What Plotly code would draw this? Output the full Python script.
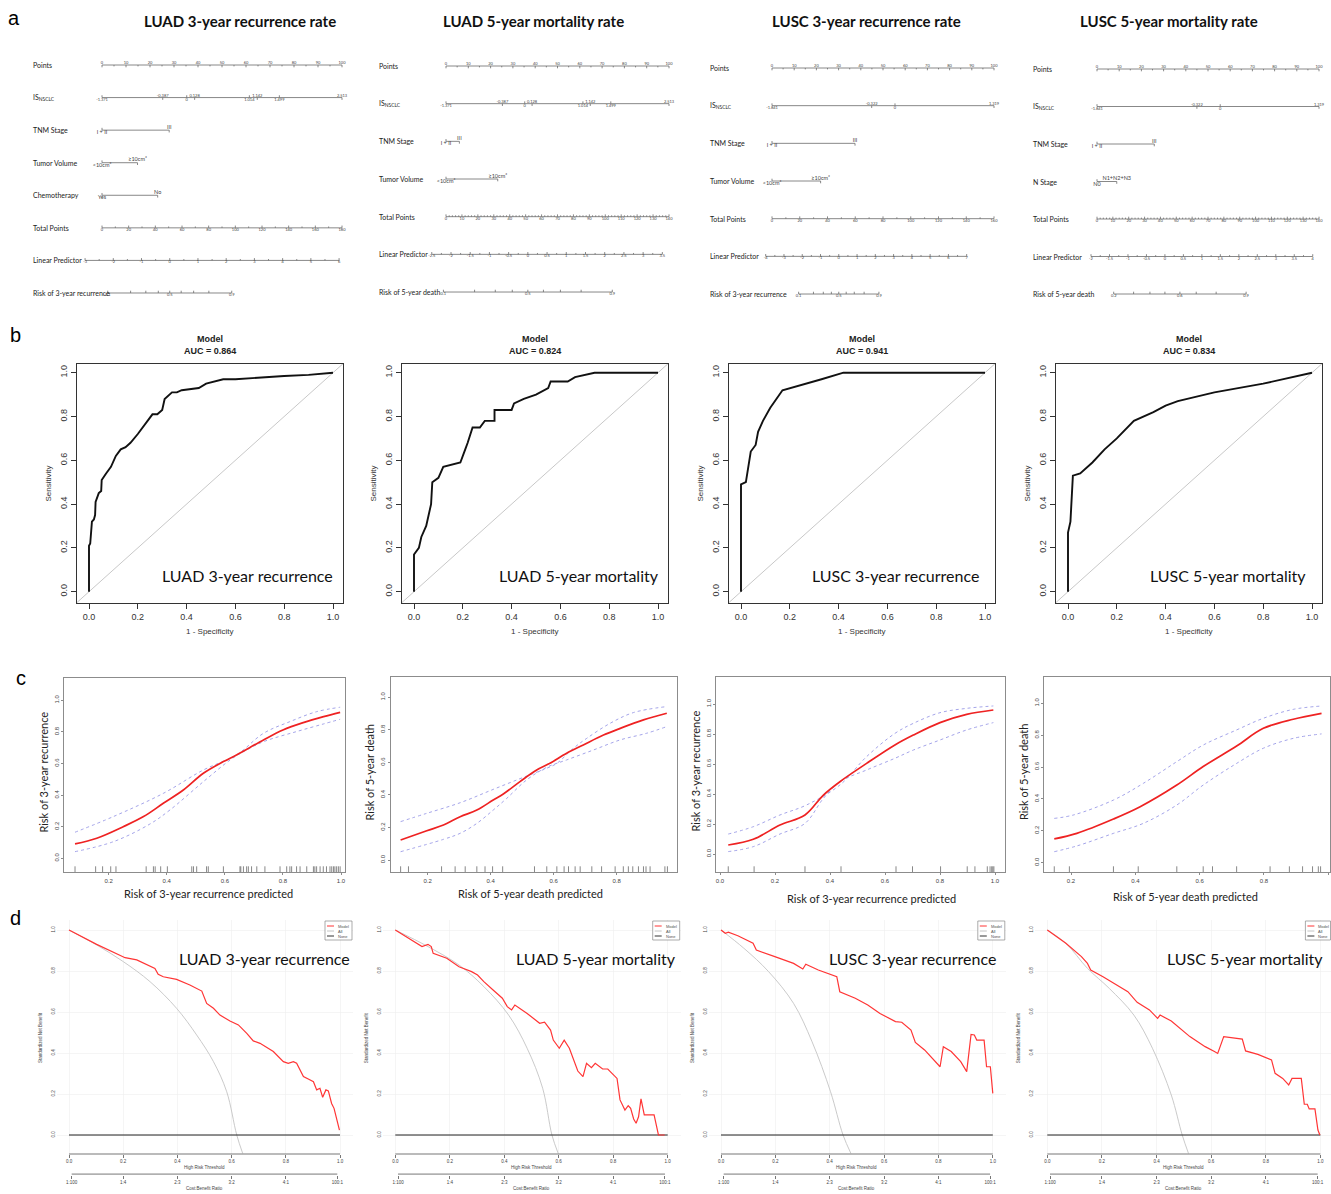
import math
import plotly.graph_objects as go

W, H = 1331, 1194
LATO = "Lato, Open Sans, sans-serif"
ARIAL = "Liberation Sans, Arial, sans-serif"

# ============================ DATA ============================
panel_letters = ["a", "b", "c", "d"]
nomogram_titles = ["LUAD 3-year recurrence rate", "LUAD 5-year mortality rate",
                   "LUSC 3-year recurrence rate", "LUSC 5-year mortality rate"]
model_names = ["LUAD 3-year recurrence", "LUAD 5-year mortality",
               "LUSC 3-year recurrence", "LUSC 5-year mortality"]
auc_values = [0.864, 0.824, 0.941, 0.834]
outcome_labels = ["Risk of 3-year recurrence", "Risk of 5-year death",
                  "Risk of 3-year recurrence", "Risk of 5-year death"]

# ---- (a) nomograms ----
points_major = [0, 10, 20, 30, 40, 50, 60, 70, 80, 90, 100]
points_minor = [5, 15, 25, 35, 45, 55, 65, 75, 85, 95]
is_vals_luad = [-1.371, -0.387, 0, 0.128, 1.014, 1.142, 1.499, 2.513]
is_pts_luad = [0, 25.3, 35.3, 38.6, 61.4, 64.7, 73.9, 100]
is_vals_lusc = [-1.841, -0.322, 0, 1.319]
is_pts_lusc3 = [0, 44.9, 55.4, 100]
is_pts_lusc5 = [0, 45.0, 55.5, 100]
tnm_levels = ["I + II", "III"]
volume_levels = ["<10cm³", "≥10cm³"]
chemo_levels = ["Yes", "No"]
nstage_levels = ["N0", "N1+N2+N3"]
luad3_tnm_pts = [0, 28.0]
luad3_volume_pts = [0, 14.8]
luad3_chemo_pts = [0, 23.2]
luad5_tnm_pts = [0, 6.0]
luad5_volume_pts = [0, 23.2]
lusc3_tnm_pts = [0, 37.4]
lusc3_volume_pts = [0, 21.9]
lusc5_tnm_pts = [0, 25.8]
lusc5_nstage_pts = [0, 8.9]
total_points_max = [180, 140, 160, 140]
total_points_step = [20, 10, 20, 10]
total_points_minor = [10, 2, 10, 2]
lp_ticks_luad3 = [-3, -2, -1, 0, 1, 2, 3, 4, 5, 6]
lp_ticks_luad5 = [-2.5, -2, -1.5, -1, -0.5, 0, 0.5, 1, 1.5, 2, 2.5, 3, 3.5]
lp_ticks_lusc3 = [-4, -3, -2, -1, 0, 1, 2, 3, 4, 5, 6, 7]
lp_ticks_lusc5 = [-2, -1.5, -1, -0.5, 0, 0.5, 1, 1.5, 2, 2.5, 3, 3.5, 4]
lp_at_zero_points = [-2.40, -2.13, -3.655, -1.838]
lp_per_total_point = [0.04724, 0.04145, 0.07594, 0.04291]
risk_ticks_01 = [0.1, 0.2, 0.3, 0.4, 0.5, 0.6, 0.7, 0.8, 0.9]
risk_ticks_02 = [0.2, 0.3, 0.4, 0.5, 0.6, 0.7, 0.8, 0.9]
risk_labels_01 = [0.1, 0.5, 0.9]
risk_labels_02 = [0.2, 0.6, 0.9]

# ---- (b) ROC curves ----
roc1_fpr = [0, 0, 0.005, 0.01, 0.012, 0.02, 0.025, 0.027, 0.035, 0.04, 0.05, 0.052, 0.07, 0.09, 0.11,
            0.13, 0.15, 0.17, 0.2, 0.24, 0.26, 0.28, 0.30, 0.31, 0.33, 0.34, 0.36, 0.38, 0.45, 0.48,
            0.55, 0.6, 0.8, 0.9, 1.0]
roc1_tpr = [0, 0.21, 0.22, 0.27, 0.32, 0.33, 0.35, 0.41, 0.43, 0.45, 0.46, 0.51, 0.54, 0.57, 0.62,
            0.65, 0.66, 0.68, 0.72, 0.78, 0.81, 0.81, 0.83, 0.88, 0.90, 0.91, 0.91, 0.92, 0.93, 0.95,
            0.97, 0.97, 0.985, 0.99, 1.0]
roc2_fpr = [0, 0, 0.02, 0.03, 0.05, 0.06, 0.07, 0.075, 0.1, 0.12, 0.15, 0.19, 0.21, 0.22, 0.24, 0.27,
            0.29, 0.33, 0.33, 0.4, 0.41, 0.45, 0.5, 0.55, 0.56, 0.63, 0.66, 0.74, 1.0]
roc2_tpr = [0, 0.17, 0.2, 0.25, 0.3, 0.35, 0.4, 0.5, 0.52, 0.57, 0.58, 0.59, 0.65, 0.68, 0.75, 0.75,
            0.78, 0.78, 0.83, 0.83, 0.86, 0.88, 0.9, 0.93, 0.96, 0.96, 0.98, 1.0, 1.0]
roc3_fpr = [0, 0, 0.02, 0.04, 0.06, 0.07, 0.09, 0.12, 0.17, 0.27, 0.33, 0.42, 1.0]
roc3_tpr = [0, 0.49, 0.5, 0.64, 0.67, 0.73, 0.78, 0.84, 0.92, 0.95, 0.97, 1.0, 1.0]
roc4_fpr = [0, 0, 0.01, 0.015, 0.02, 0.05, 0.1, 0.15, 0.2, 0.27, 0.35, 0.4, 0.45, 0.6, 0.8, 1.0]
roc4_tpr = [0, 0.27, 0.32, 0.42, 0.53, 0.54, 0.59, 0.65, 0.70, 0.78, 0.82, 0.85, 0.87, 0.91, 0.95, 1.0]

# ---- (c) calibration curves ----
cal1_fit_x = [0.084, 0.159, 0.25, 0.32, 0.388, 0.457, 0.526, 0.595, 0.64, 0.733, 0.80, 0.87, 0.94, 0.997]
cal1_fit_y = [0.091, 0.127, 0.2, 0.264, 0.348, 0.432, 0.538, 0.612, 0.654, 0.749, 0.812, 0.859, 0.897, 0.924]
cal1_hi_x = [0.084, 0.216, 0.388, 0.526, 0.64, 0.733, 0.824, 0.916, 0.997]
cal1_hi_y = [0.165, 0.264, 0.411, 0.559, 0.654, 0.791, 0.865, 0.928, 0.956]
cal1_lo_x = [0.084, 0.216, 0.342, 0.411, 0.526, 0.618, 0.664, 0.733, 0.847, 0.939, 0.997]
cal1_lo_y = [0.042, 0.105, 0.217, 0.306, 0.485, 0.622, 0.675, 0.738, 0.802, 0.85, 0.88]
cal1_rug = [0.084, 0.155, 0.179, 0.207, 0.225, 0.329, 0.354, 0.36, 0.379, 0.402, 0.486, 0.492, 0.503,
            0.537, 0.543, 0.595, 0.652, 0.655, 0.664, 0.675, 0.681, 0.692, 0.71, 0.738, 0.79, 0.813,
            0.824, 0.83, 0.847, 0.859, 0.882, 0.905, 0.91, 0.916, 0.928, 0.939, 0.95, 0.962, 0.968,
            0.974, 0.979, 0.985, 0.991, 0.997]
cal2_fit_x = [0.114, 0.197, 0.25, 0.303, 0.356, 0.408, 0.44, 0.493, 0.546, 0.588, 0.641, 0.694, 0.758, 0.811, 0.885, 0.959]
cal2_fit_y = [0.123, 0.18, 0.215, 0.266, 0.307, 0.369, 0.406, 0.482, 0.553, 0.594, 0.656, 0.707, 0.768, 0.809, 0.861, 0.902]
cal2_hi_x = [0.114, 0.197, 0.303, 0.408, 0.514, 0.578, 0.61, 0.662, 0.705, 0.779, 0.853, 0.959]
cal2_hi_y = [0.236, 0.287, 0.352, 0.434, 0.516, 0.564, 0.594, 0.686, 0.748, 0.84, 0.906, 0.943]
cal2_lo_x = [0.114, 0.25, 0.303, 0.356, 0.408, 0.451, 0.514, 0.578, 0.641, 0.726, 0.811, 0.895, 0.959]
cal2_lo_y = [0.051, 0.127, 0.164, 0.225, 0.307, 0.379, 0.492, 0.57, 0.615, 0.676, 0.738, 0.779, 0.82]
cal2_rug = [0.114, 0.139, 0.244, 0.287, 0.319, 0.356, 0.382, 0.406, 0.438, 0.539, 0.578, 0.61, 0.633,
            0.647, 0.668, 0.684, 0.721, 0.752, 0.795, 0.821, 0.837, 0.851, 0.869, 0.885, 0.893, 0.906,
            0.953, 0.961]
cal3_fit_x = [0.03, 0.121, 0.218, 0.309, 0.376, 0.436, 0.533, 0.636, 0.703, 0.8, 0.897, 0.994]
cal3_fit_y = [0.06, 0.098, 0.193, 0.26, 0.393, 0.482, 0.604, 0.727, 0.793, 0.876, 0.931, 0.96]
cal3_hi_x = [0.03, 0.121, 0.218, 0.315, 0.436, 0.533, 0.636, 0.703, 0.8, 0.897, 0.994]
cal3_hi_y = [0.133, 0.182, 0.26, 0.327, 0.46, 0.649, 0.804, 0.871, 0.942, 0.971, 0.987]
cal3_lo_x = [0.03, 0.121, 0.218, 0.309, 0.376, 0.436, 0.533, 0.636, 0.703, 0.8, 0.897, 0.994]
cal3_lo_y = [0.016, 0.049, 0.133, 0.204, 0.371, 0.482, 0.56, 0.638, 0.693, 0.76, 0.827, 0.876]
cal3_rug = [0.03, 0.124, 0.309, 0.44, 0.64, 0.70, 0.802, 0.899, 0.927, 0.972, 0.982, 0.988, 0.992, 0.996]
cal4_fit_x = [0.148, 0.218, 0.332, 0.415, 0.529, 0.611, 0.715, 0.798, 0.891, 0.979]
cal4_fit_y = [0.149, 0.184, 0.274, 0.351, 0.487, 0.603, 0.732, 0.843, 0.9, 0.937]
cal4_hi_x = [0.148, 0.207, 0.332, 0.425, 0.529, 0.611, 0.715, 0.798, 0.891, 0.979]
cal4_hi_y = [0.278, 0.299, 0.393, 0.498, 0.634, 0.738, 0.833, 0.906, 0.962, 0.983]
cal4_lo_x = [0.148, 0.218, 0.332, 0.425, 0.529, 0.611, 0.715, 0.798, 0.891, 0.979]
cal4_lo_y = [0.069, 0.105, 0.184, 0.247, 0.362, 0.487, 0.623, 0.718, 0.78, 0.808]
cal4_rug = [0.148, 0.195, 0.332, 0.409, 0.529, 0.611, 0.64, 0.715, 0.819, 0.879, 0.92, 0.951, 0.969, 0.976]
cal_xticks = [[0.2, 0.4, 0.6, 0.8, 1.0], [0.2, 0.4, 0.6, 0.8],
              [0.0, 0.2, 0.4, 0.6, 0.8, 1.0], [0.2, 0.4, 0.6, 0.8, 1.0]]
cal_yticks = [0.0, 0.2, 0.4, 0.6, 0.8, 1.0]

# ---- (d) decision curves ----
dca1_thr = [0, 0.102, 0.207, 0.25, 0.317, 0.329, 0.348, 0.397, 0.446, 0.49, 0.508, 0.533, 0.557, 0.594,
            0.625, 0.656, 0.68, 0.705, 0.754, 0.791, 0.809, 0.828, 0.84, 0.865, 0.883, 0.902, 0.914,
            0.926, 0.936, 0.948, 0.957, 0.969, 0.978, 0.998]
dca1_model = [1.0, 0.93, 0.865, 0.854, 0.813, 0.784, 0.772, 0.759, 0.732, 0.702, 0.642, 0.618, 0.585,
              0.556, 0.537, 0.496, 0.459, 0.447, 0.407, 0.358, 0.35, 0.358, 0.35, 0.285, 0.273, 0.26,
              0.22, 0.228, 0.184, 0.22, 0.215, 0.154, 0.13, 0.024]
dca1_all_thr = [0, 0.102, 0.2, 0.299, 0.397, 0.471, 0.533, 0.582, 0.619, 0.641]
dca1_all = [1.0, 0.927, 0.846, 0.748, 0.618, 0.488, 0.358, 0.211, 0.0, -0.09]
dca2_thr = [0, 0.098, 0.12, 0.132, 0.139, 0.189, 0.234, 0.28, 0.302, 0.325, 0.359, 0.393, 0.411, 0.427,
            0.439, 0.484, 0.53, 0.548, 0.57, 0.58, 0.602, 0.62, 0.639, 0.655, 0.67, 0.689, 0.702, 0.72,
            0.734, 0.761, 0.78, 0.814, 0.825, 0.843, 0.855, 0.864, 0.875, 0.884, 0.893, 0.902, 0.914,
            0.95, 0.966, 0.989]
dca2_model = [1.0, 0.919, 0.93, 0.919, 0.886, 0.862, 0.821, 0.797, 0.78, 0.748, 0.707, 0.667, 0.626,
              0.61, 0.634, 0.593, 0.545, 0.55, 0.512, 0.463, 0.423, 0.463, 0.423, 0.366, 0.312, 0.285,
              0.35, 0.328, 0.35, 0.322, 0.322, 0.276, 0.171, 0.122, 0.143, 0.13, 0.078, 0.057, 0.089,
              0.176, 0.098, 0.098, 0.0, 0.0]
dca2_all_thr = [0, 0.12, 0.234, 0.325, 0.416, 0.484, 0.541, 0.575, 0.598]
dca2_all = [1.0, 0.919, 0.829, 0.724, 0.585, 0.423, 0.228, 0.0, -0.09]
dca3_thr = [0, 0.016, 0.027, 0.062, 0.118, 0.13, 0.198, 0.267, 0.301, 0.312, 0.358, 0.426, 0.437, 0.494,
            0.54, 0.585, 0.642, 0.665, 0.699, 0.715, 0.749, 0.779, 0.806, 0.818, 0.847, 0.882, 0.904,
            0.92, 0.932, 0.941, 0.968, 0.977, 0.991, 1.0]
dca3_model = [1.0, 0.984, 0.989, 0.972, 0.935, 0.902, 0.87, 0.837, 0.81, 0.833, 0.805, 0.772, 0.699,
              0.667, 0.634, 0.593, 0.553, 0.55, 0.512, 0.452, 0.415, 0.374, 0.333, 0.431, 0.407, 0.358,
              0.309, 0.491, 0.488, 0.463, 0.463, 0.333, 0.333, 0.203]
dca3_all_thr = [0, 0.084, 0.175, 0.267, 0.335, 0.403, 0.449, 0.478]
dca3_all = [1.0, 0.911, 0.797, 0.642, 0.455, 0.211, 0.0, -0.09]
dca4_thr = [0, 0.068, 0.125, 0.147, 0.159, 0.204, 0.295, 0.329, 0.374, 0.404, 0.413, 0.454, 0.522, 0.578,
            0.612, 0.624, 0.646, 0.714, 0.726, 0.771, 0.821, 0.834, 0.862, 0.884, 0.896, 0.93, 0.941,
            0.952, 0.959, 0.98, 0.991, 0.998]
dca4_model = [1.0, 0.935, 0.87, 0.837, 0.805, 0.772, 0.699, 0.647, 0.61, 0.569, 0.585, 0.556, 0.48,
              0.431, 0.407, 0.398, 0.48, 0.468, 0.41, 0.393, 0.366, 0.301, 0.276, 0.244, 0.276, 0.276,
              0.15, 0.15, 0.127, 0.127, 0.024, 0.0]
dca4_all_thr = [0, 0.068, 0.147, 0.227, 0.317, 0.385, 0.454, 0.494, 0.517]
dca4_all = [1.0, 0.935, 0.813, 0.715, 0.585, 0.423, 0.195, 0.0, -0.09]
dca_ticks = [0.0, 0.2, 0.4, 0.6, 0.8, 1.0]
cost_benefit_thr = [0.0099, 0.2, 0.4, 0.6, 0.8, 0.99]
cost_benefit_txt = ["1:100", "1:4", "2:3", "3:2", "4:1", "100:1"]
legend_names = ["Model", "All", "None"]

# ============================ LAYOUT HELPERS ============================
traces = []
annotations = []
shapes = []
axes = {}
count = [0]


def lin(v0, p0, v1, p1, a, b):
    k = (v1 - v0) / (p1 - p0)
    return [v0 + (a - p0) * k, v0 + (b - p0) * k]


def new_axes(xd, xr, yd, yr, xo=None, yo=None):
    count[0] += 1
    n = count[0]
    sx = '' if n == 1 else str(n)
    base = dict(showgrid=False, zeroline=False, fixedrange=True)
    xa = dict(base, domain=xd, range=xr, anchor='y' + sx)
    ya = dict(base, domain=yd, range=yr, anchor='x' + sx)
    xa.update(xo or {})
    ya.update(yo or {})
    axes['xaxis' + sx] = xa
    axes['yaxis' + sx] = ya
    return 'x' + sx, 'y' + sx


def ann(px, py, text, size, font=LATO, color='#111', xa='center', ya='middle', angle=0):
    annotations.append(dict(x=px / W, y=1 - py / H, xref='paper', yref='paper', text=text,
                            showarrow=False, xanchor=xa, yanchor=ya, textangle=angle,
                            font=dict(family=font, size=size, color=color)))


def fmt(v):
    return f"{v:g}"


# ============================ (a) NOMOGRAMS ============================
nomo_label_px = [31, 377, 708, 1031]
nomo_p0_px = [102, 446, 772, 1097]
nomo_p100_px = [342, 669, 994, 1319]
nomo_row0_px = [65, 66, 68, 69]
nomo_row_step = [32.57, 37.67, 37.67, 37.5]
title_cx = [240, 533, 867, 1169]

nomo_is = [(is_vals_luad, is_pts_luad), (is_vals_luad, is_pts_luad),
           (is_vals_lusc, is_pts_lusc3), (is_vals_lusc, is_pts_lusc5)]
nomo_factors = [
    [("TNM Stage", tnm_levels, luad3_tnm_pts), ("Tumor Volume", volume_levels, luad3_volume_pts),
     ("Chemotherapy", chemo_levels, luad3_chemo_pts)],
    [("TNM Stage", tnm_levels, luad5_tnm_pts), ("Tumor Volume", volume_levels, luad5_volume_pts)],
    [("TNM Stage", tnm_levels, lusc3_tnm_pts), ("Tumor Volume", volume_levels, lusc3_volume_pts)],
    [("TNM Stage", tnm_levels, lusc5_tnm_pts), ("N Stage", nstage_levels, lusc5_nstage_pts)],
]
nomo_lp_ticks = [lp_ticks_luad3, lp_ticks_luad5, lp_ticks_lusc3, lp_ticks_lusc5]
nomo_risk_ticks = [risk_ticks_01, risk_ticks_01, risk_ticks_01, risk_ticks_02]
nomo_risk_labels = [risk_labels_01, risk_labels_01, risk_labels_01, risk_labels_02]

for k in range(4):
    ann(title_cx[k], 21, "<b>" + nomogram_titles[k] + "</b>", 15, font=LATO, color='#111')
    s = nomo_row_step[k]
    row0 = nomo_row0_px[k]
    names = ["Points", "IS<sub>NSCLC</sub>"] + [f[0] for f in nomo_factors[k]] + \
            ["Total Points", "Linear Predictor", outcome_labels[k]]
    nr = len(names)
    top_px = row0 - 0.7 * s
    bot_px = row0 + (nr - 1) * s + 0.7 * s
    L = nomo_label_px[k] - 8
    R = min(nomo_p100_px[k] + 10, W)
    xr = lin(0, nomo_p0_px[k], 100, nomo_p100_px[k], L, R)
    yr = [(bot_px - row0) / s, (top_px - row0) / s]
    xref, yref = new_axes([L / W, R / W], xr, [1 - bot_px / H, 1 - top_px / H], yr,
                          dict(visible=False), dict(visible=False))
    tl = 2.3 / s
    sx, sy = [], []
    tops, bots, topf, botf = [], [], [], []

    def seg(x0, y0, x1, y1):
        sx.extend([x0, x1, None])
        sy.extend([y0, y1, None])

    def scale(row, major, labels, minor, side):
        allx = major + minor
        seg(min(allx), row, max(allx), row)
        d = tl if side == 'top' else -tl
        for x in major:
            seg(x, row, x, row + d)
        for x in minor:
            seg(x, row, x, row + d * 0.6)
        tgt = tops if side == 'top' else bots
        for x, t in zip(major, labels):
            if t is not None:
                tgt.append((x, row, t))

    # row 0: points
    scale(0, points_major, [fmt(v) for v in points_major], points_minor, 'top')
    # row 1: IS
    iv, ip = nomo_is[k]
    seg(min(ip), 1, max(ip), 1)
    for j, (v, p) in enumerate(zip(iv, ip)):
        if j % 2 == 0:
            seg(p, 1, p, 1 - tl)
            bots.append((p, 1, fmt(v)))
        else:
            seg(p, 1, p, 1 + tl)
            tops.append((p, 1, fmt(v)))
    # factor rows
    r = 2
    for (_, levels, pts) in nomo_factors[k]:
        seg(min(pts), r, max(pts), r)
        for j, (lv, p) in enumerate(zip(levels, pts)):
            seg(p, r, p, r - tl if j % 2 == 0 else r + tl)
            (botf if j % 2 == 0 else topf).append((p, r, lv))
        r += 1
    # total points
    tpmax = total_points_max[k]
    f = 100.0 / tpmax
    tp_major = list(range(0, tpmax + 1, total_points_step[k]))
    tp_minor = [v for v in range(0, tpmax + 1, total_points_minor[k]) if v not in tp_major]
    scale(r, [v * f for v in tp_major], [fmt(v) for v in tp_major], [v * f for v in tp_minor], 'bottom')
    r += 1
    # linear predictor
    lp0, lps = lp_at_zero_points[k], lp_per_total_point[k]

    def lp_x(lp):
        return (lp - lp0) / lps * f

    lpt = nomo_lp_ticks[k]
    lp_minor = [(a + b) / 2 for a, b in zip(lpt[:-1], lpt[1:])]
    scale(r, [lp_x(v) for v in lpt], [fmt(v) for v in lpt], [lp_x(v) for v in lp_minor], 'bottom')
    r += 1
    # risk
    rt = nomo_risk_ticks[k]
    rl = nomo_risk_labels[k]
    rx = [lp_x(math.log(v / (1 - v))) for v in rt]
    scale(r, rx, [fmt(v) if any(abs(v - q) < 1e-9 for q in rl) else None for v in rt], [], 'bottom')

    traces.append(go.Scatter(x=sx, y=sy, xaxis=xref, yaxis=yref, mode='lines',
                             line=dict(color='#6a6a6a', width=0.8), hoverinfo='skip'))
    for lst, pos, size in [(tops, 'top center', 4), (bots, 'bottom center', 4),
                           (topf, 'top center', 5.5), (botf, 'bottom center', 5.5)]:
        if lst:
            traces.append(go.Scatter(x=[a[0] for a in lst], y=[a[1] for a in lst],
                                     text=[a[2] for a in lst], mode='text', textposition=pos,
                                     textfont=dict(family=LATO, size=size, color='#444'),
                                     xaxis=xref, yaxis=yref, cliponaxis=False, hoverinfo='skip'))
    for i, nm in enumerate(names):
        annotations.append(dict(x=nomo_label_px[k] / W, y=i, xref='paper', yref=yref, text=nm,
                                showarrow=False, xanchor='left', yanchor='middle',
                                font=dict(family=LATO, size=7, color='#222')))

# ============================ (b) ROC ============================
roc_data = [(roc1_fpr, roc1_tpr), (roc2_fpr, roc2_tpr), (roc3_fpr, roc3_tpr), (roc4_fpr, roc4_tpr)]
roc_x0_px = [89, 414, 741, 1068]
roc_label_right = [335, 661, 981, 1308]
ticks01 = [0.0, 0.2, 0.4, 0.6, 0.8, 1.0]
for k in range(4):
    x0 = roc_x0_px[k]
    L, R = x0 - 12, x0 + 254
    T, B = 364, 603
    xr = lin(0, x0, 1, x0 + 244, L, R)
    yr = lin(0, 591.7, 1, 372.7, B, T)
    common = dict(showline=True, mirror=True, linecolor='#333', linewidth=1, ticks='outside',
                  ticklen=5, tickwidth=1, tickcolor='#333', tickvals=ticks01,
                  ticktext=[f"{v:.1f}" for v in ticks01],
                  tickfont=dict(family=ARIAL, size=9, color='#333'))
    xref, yref = new_axes([L / W, R / W], xr, [1 - B / H, 1 - T / H], yr,
                          dict(common), dict(common, tickangle=-90))
    traces.append(go.Scatter(x=[xr[0], xr[1]], y=[xr[0], xr[1]], xaxis=xref, yaxis=yref, mode='lines',
                             line=dict(color='#c8c8c8', width=1), hoverinfo='skip'))
    fx, ty = roc_data[k]
    traces.append(go.Scatter(x=fx, y=ty, xaxis=xref, yaxis=yref, mode='lines',
                             line=dict(color='#111', width=1.9), hoverinfo='skip'))
    cx = (L + R) / 2
    ann(cx, 339, "<b>Model</b>", 9, font=ARIAL, color='#222')
    ann(cx, 351, f"<b>AUC = {auc_values[k]:.3f}</b>", 9, font=ARIAL, color='#222')
    ann(L - 29, (T + B) / 2, "Sensitivity", 8, font=ARIAL, color='#333', angle=-90)
    ann(cx, 631, "1 - Specificity", 8, font=ARIAL, color='#333')
    ann(roc_label_right[k], 575, model_names[k], 16, font=LATO, color='#111', xa='right')

# ============================ (c) CALIBRATION ============================
cal_data = [
    (cal1_fit_x, cal1_fit_y, cal1_hi_x, cal1_hi_y, cal1_lo_x, cal1_lo_y, cal1_rug),
    (cal2_fit_x, cal2_fit_y, cal2_hi_x, cal2_hi_y, cal2_lo_x, cal2_lo_y, cal2_rug),
    (cal3_fit_x, cal3_fit_y, cal3_hi_x, cal3_hi_y, cal3_lo_x, cal3_lo_y, cal3_rug),
    (cal4_fit_x, cal4_fit_y, cal4_hi_x, cal4_hi_y, cal4_lo_x, cal4_lo_y, cal4_rug),
]
cal_xmap = [(0.2, 108.7, 1.0, 341, 64.3, 345), (0.2, 427.7, 0.8, 616.7, 390.7, 676.7),
            (0.0, 720, 1.0, 995, 716, 1005), (0.2, 1071, 1.0, 1328.3, 1044.3, 1330)]
cal_ymap = [(858.3, 700.3, 678.3, 872.3), (860, 697.3, 677.3, 872.3),
            (854, 704, 676.7, 872.3), (862.7, 703.3, 677.3, 872.3)]
cal_xtitle = [(208, 893), (530, 893), (871, 898), (1185, 896)]
for k in range(4):
    va, pa, vb, pb, L, R = cal_xmap[k]
    p0, p1, T, B = cal_ymap[k]
    xr = lin(va, pa, vb, pb, L, R)
    yr = lin(0, p0, 1, p1, B, T)
    common = dict(showline=True, mirror=True, linecolor='#8c8c8c', linewidth=1, ticks='outside',
                  ticklen=2, tickcolor='#8c8c8c',
                  tickfont=dict(family=ARIAL, size=6, color='#444'))
    xref, yref = new_axes([L / W, R / W], xr, [1 - B / H, 1 - T / H], yr,
                          dict(common, tickvals=cal_xticks[k], ticktext=[f"{v:.1f}" for v in cal_xticks[k]]),
                          dict(common, tickvals=cal_yticks, ticktext=[f"{v:.1f}" for v in cal_yticks],
                               tickangle=-90))
    fxs, fys, hx, hy, lx, ly, rug = cal_data[k]
    rug_h = 6.0 / (p0 - p1)
    rx, ry = [], []
    for v in rug:
        rx.extend([v, v, None])
        ry.extend([yr[0], yr[0] + rug_h, None])
    traces.append(go.Scatter(x=rx, y=ry, xaxis=xref, yaxis=yref, mode='lines',
                             line=dict(color='#555', width=0.7), hoverinfo='skip'))
    for xs, ys in [(hx, hy), (lx, ly)]:
        traces.append(go.Scatter(x=xs, y=ys, xaxis=xref, yaxis=yref, mode='lines',
                                 line=dict(color='#9a9ae6', width=0.9, dash='dot', shape='spline'),
                                 hoverinfo='skip'))
    traces.append(go.Scatter(x=fxs, y=fys, xaxis=xref, yaxis=yref, mode='lines',
                             line=dict(color='#ee2222', width=1.7, shape='spline'), hoverinfo='skip'))
    ann(L - 21, (T + B) / 2 - 3, outcome_labels[k], 11, font=LATO, color='#222', angle=-90)
    ann(cal_xtitle[k][0], cal_xtitle[k][1], outcome_labels[k] + " predicted", 11, font=LATO, color='#222')

# ============================ (d) DECISION CURVES ============================
dca_data = [(dca1_thr, dca1_model, dca1_all_thr, dca1_all), (dca2_thr, dca2_model, dca2_all_thr, dca2_all),
            (dca3_thr, dca3_model, dca3_all_thr, dca3_all), (dca4_thr, dca4_model, dca4_all_thr, dca4_all)]
dca_x0 = [69, 395.3, 721, 1047.3]
dca_x1 = [340, 667.7, 992.8, 1320.4]
dca_label_right = [352, 678, 998, 1325]
for k in range(4):
    x0, x1 = dca_x0[k], dca_x1[k]
    L, R = x0 - 12, min(x1 + 13, W)
    T, B = 920, 1154
    xr = lin(0, x0, 1, x1, L, R)
    yr = lin(0, 1135, 1, 930, B, T)
    xref, yref = new_axes(
        [L / W, R / W], xr, [1 - B / H, 1 - T / H], yr,
        dict(showgrid=True, gridcolor='#efefef', gridwidth=0.6, tickvals=dca_ticks,
             ticktext=[f"{v:.1f}" for v in dca_ticks], ticks='outside', ticklen=3, tickcolor='#777',
             tickfont=dict(family=ARIAL, size=4.5, color='#444')),
        dict(showgrid=True, gridcolor='#efefef', gridwidth=0.6, tickvals=dca_ticks,
             ticktext=[f"{v:.1f}" for v in dca_ticks], tickangle=-90,
             tickfont=dict(family=ARIAL, size=4.5, color='#444')))
    thr, mod, athr, aval = dca_data[k]
    traces.append(go.Scatter(x=athr, y=aval, xaxis=xref, yaxis=yref, mode='lines',
                             line=dict(color='#c4c4c4', width=0.9, shape='spline'), hoverinfo='skip'))
    traces.append(go.Scatter(x=[min(dca_ticks), max(dca_ticks)], y=[0, 0], xaxis=xref, yaxis=yref,
                             mode='lines', line=dict(color='#222', width=1.2), hoverinfo='skip'))
    traces.append(go.Scatter(x=thr, y=mod, xaxis=xref, yaxis=yref, mode='lines',
                             line=dict(color='#ff3535', width=1.2), hoverinfo='skip'))
    shapes.append(dict(type='line', xref=xref, yref=yref + ' domain', x0=min(dca_ticks), x1=max(dca_ticks),
                       y0=0, y1=0, line=dict(color='#777', width=1)))
    # cost:benefit axis
    cT, cB = 1165, 1175
    cref_x, cref_y = new_axes(
        [L / W, R / W], xr, [1 - cB / H, 1 - cT / H], [-0.1, 1],
        dict(tickvals=cost_benefit_thr, ticktext=cost_benefit_txt, ticks='outside', ticklen=3,
             tickcolor='#777', tickfont=dict(family=ARIAL, size=4.5, color='#444')),
        dict(visible=False))
    traces.append(go.Scatter(x=[min(cost_benefit_thr), max(cost_benefit_thr)], y=[0, 0],
                             xaxis=cref_x, yaxis=cref_y, mode='lines',
                             line=dict(color='#777', width=1), hoverinfo='skip'))
    cx = (x0 + x1) / 2
    ann(cx, 1167.5, "High Risk Threshold", 4.5, font=ARIAL, color='#444')
    ann(cx, 1188, "Cost:Benefit Ratio", 4.5, font=ARIAL, color='#444')
    ann(x0 - 29, 1038, "Standardized Net Benefit", 4.5, font=ARIAL, color='#444', angle=-90)
    ann(dca_label_right[k], 958, model_names[k], 16, font=LATO, color='#111', xa='right')
    # legend box
    lx0 = x1 - 15
    lx1 = min(x1 + 12, W - 0.5)
    shapes.append(dict(type='rect', xref='paper', yref='paper', x0=lx0 / W, x1=lx1 / W,
                       y0=1 - 940 / H, y1=1 - 921 / H, line=dict(color='#888', width=0.7),
                       fillcolor='white'))
    for j, (nm, col) in enumerate(zip(legend_names, ['#ff3535', '#c4c4c4', '#333'])):
        yy = 926 + j * 5
        shapes.append(dict(type='line', xref='paper', yref='paper', x0=(lx0 + 2) / W, x1=(lx0 + 9) / W,
                           y0=1 - yy / H, y1=1 - yy / H, line=dict(color=col, width=1)))
        ann(lx0 + 11, yy, nm, 4, font=ARIAL, color='#555', xa='left')

# ============================ panel letters ============================
for letter, (px, py) in zip(panel_letters, [(14, 18), (15, 335), (21, 678), (15, 918)]):
    ann(px, py, letter, 20, font=ARIAL, color='#000')

fig = go.Figure(data=traces)
fig.update_layout(width=W, height=H, autosize=False, margin=dict(l=0, r=0, t=0, b=0),
                  paper_bgcolor='white', plot_bgcolor='white', showlegend=False,
                  annotations=annotations, shapes=shapes, **axes)
fig.write_html("out.html", config={"displayModeBar": False, "staticPlot": True},
               post_script="document.body.style.margin='0';document.body.style.padding='0';"
                           "document.body.style.overflow='hidden';")
